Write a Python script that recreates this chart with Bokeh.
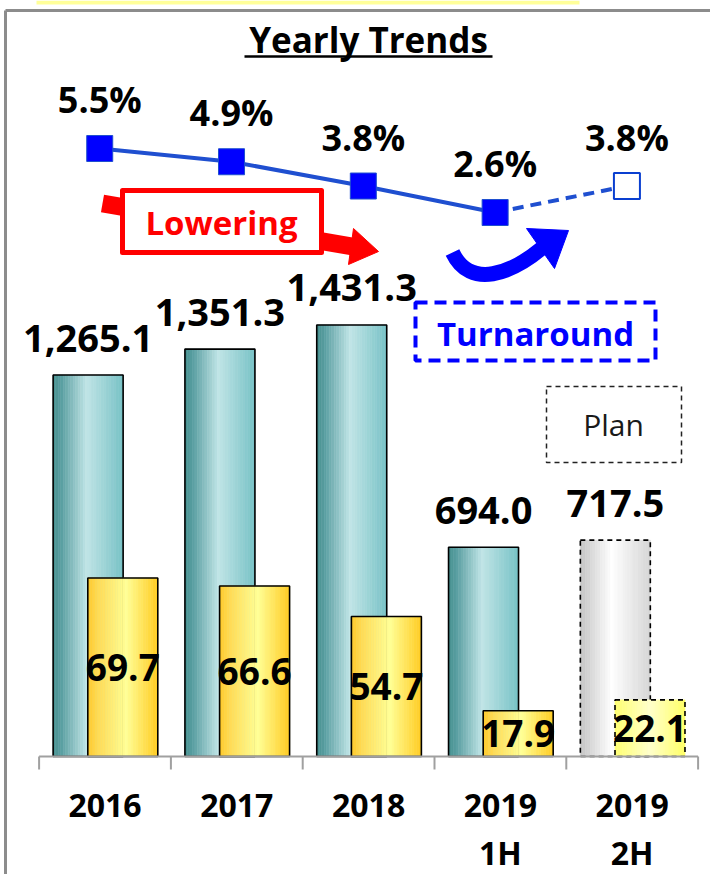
import numpy as np
from bokeh.plotting import figure
from bokeh.models import Range1d
from bokeh.core.properties import value
from bokeh.embed import file_html
from bokeh.resources import INLINE

# ---------------- data ----------------
title_text = "Yearly Trends"
cat_line1 = ["2016", "2017", "2018", "2019", "2019"]
cat_line2 = ["", "", "", "1H", "2H"]
sales = [1265.1, 1351.3, 1431.3, 694.0, 717.5]
sales_labels = ["1,265.1", "1,351.3", "1,431.3", "694.0", "717.5"]
profit = [69.7, 66.6, 54.7, 17.9, 22.1]
margin = [5.5, 4.9, 3.8, 2.6, 3.8]
is_plan = [False, False, False, False, True]
note_lowering = "Lowering"
note_turnaround = "Turnaround"
note_plan = "Plan"

# ---------------- layout ----------------
W, H = 710, 874
CX0, DX = 104.5, 131.8      # pixel centre of first category, spacing
BASE = 756                  # baseline pixel (from top)
K_SALES, K_PROFIT = 0.3015, 2.56
PCT_TOP_PX, PCT_TOP_V, K_PCT = 148, 5.5, 22.07
FONT = value("Open Sans")

n = len(cat_line1)
idx = np.arange(n, dtype=float)
OFF_T, OFF_Y, BW = -0.128, 0.135, 0.531

p = figure(width=W, height=H, output_backend="svg", toolbar_location=None,
           x_range=Range1d((0 - CX0) / DX, (W - CX0) / DX),
           y_range=Range1d(-(H - BASE) / K_SALES, BASE / K_SALES),
           x_axis_location=None, y_axis_location=None, min_border=0)
p.outline_line_color = None
p.grid.visible = False
p.background_fill_color = "white"
p.border_fill_color = "white"
p.extra_y_ranges = {
    "yel": Range1d(-(H - BASE) / K_PROFIT, BASE / K_PROFIT),
    "pct": Range1d(PCT_TOP_V - (H - PCT_TOP_PX) / K_PCT, PCT_TOP_V + PCT_TOP_PX / K_PCT),
    "px": Range1d(H, 0),
}
p.extra_x_ranges = {"px": Range1d(0, W)}


def hex2rgb(h):
    h = h.lstrip("#")
    return np.array([int(h[i:i + 2], 16) for i in (0, 2, 4)], dtype=float)


def grad(stops, t):
    for (t0, c0), (t1, c1) in zip(stops[:-1], stops[1:]):
        if t0 <= t <= t1:
            f = (t - t0) / (t1 - t0)
            c = hex2rgb(c0) * (1 - f) + hex2rgb(c1) * f
            return "#%02x%02x%02x" % tuple(int(round(v)) for v in c)
    return stops[-1][1]


TEAL = [(0, "#46908f"), (0.12, "#5a9fa2"), (0.48, "#c0e4e6"), (1.0, "#78c2c6")]
GOLD = [(0, "#ffc928"), (0.15, "#ffdb55"), (0.55, "#ffff96"), (1.0, "#ffcc22")]
GRAY = [(0, "#c4c4c4"), (0.45, "#ffffff"), (1.0, "#d6d6d6")]
PALE = [(0, "#ffff70"), (0.5, "#ffffcc"), (1.0, "#ffff66")]
NS = 28


def gradient_bars(vals, offset, stops_list, y_range_name="default"):
    L, R, T, C = [], [], [], []
    for i, v in enumerate(vals):
        x0 = idx[i] + offset - BW / 2
        for k in range(NS):
            L.append(x0 + BW * k / NS)
            R.append(x0 + BW * (k + 1) / NS)
            T.append(v)
            C.append(grad(stops_list[i], (k + 0.5) / NS))
    p.quad(left=L, right=R, bottom=0, top=T, fill_color=C, line_color=C,
           line_width=0.6, y_range_name=y_range_name)
    act = [i for i in range(n) if not is_plan[i]]
    pln = [i for i in range(n) if is_plan[i]]
    for sel, dash in ((act, "solid"), (pln, "5 4")):
        if sel:
            p.quad(left=[idx[i] + offset - BW / 2 for i in sel],
                   right=[idx[i] + offset + BW / 2 for i in sel],
                   bottom=0, top=[vals[i] for i in sel], fill_color=None,
                   line_color="black", line_width=1.6, line_dash=dash,
                   y_range_name=y_range_name)


gradient_bars(sales, OFF_T, [GRAY if pl else TEAL for pl in is_plan])
gradient_bars(profit, OFF_Y, [PALE if pl else GOLD for pl in is_plan], "yel")

# axis baseline + ticks
p.segment(x0=[-0.5], y0=[0], x1=[n - 0.5], y1=[0], line_color="#a0a0a0", line_width=2)
tick_len = 13 / K_SALES
p.segment(x0=list(np.arange(n + 1) - 0.5), y0=0, x1=list(np.arange(n + 1) - 0.5),
          y1=-tick_len, line_color="#a0a0a0", line_width=2)

# category labels
p.text(x=list(idx), y=[805] * n, text=cat_line1, y_range_name="px", text_font=FONT,
       text_font_style="bold", text_font_size="32px", text_align="center",
       text_baseline="middle", text_color="black")
p.text(x=list(idx), y=[852] * n, text=cat_line2, y_range_name="px", text_font=FONT,
       text_font_style="bold", text_font_size="32px", text_align="center",
       text_baseline="middle", text_color="black")

# bar value labels
p.text(x=list(idx + OFF_T), y=sales, text=sales_labels, text_font=FONT,
       text_font_style="bold", text_font_size="38px", text_align="center",
       text_baseline="middle", y_offset=-37, text_color="black")
p.text(x=list(idx + OFF_Y), y=[v / 2 for v in profit], text=[f"{v:.1f}" for v in profit],
       y_range_name="yel", text_font=FONT, text_font_style="bold", text_font_size="37px",
       text_align="center", text_baseline="middle", text_color="black")

# margin line
MX = list(idx - 0.04)
act = [i for i in range(n) if not is_plan[i]]
pln = [i for i in range(n) if is_plan[i]]
LINE_C = "#1f4fd0"
p.line(x=[MX[i] for i in act], y=[margin[i] for i in act], y_range_name="pct",
       line_color=LINE_C, line_width=4)
p.line(x=[MX[act[-1]]] + [MX[i] for i in pln], y=[margin[act[-1]]] + [margin[i] for i in pln],
       y_range_name="pct", line_color=LINE_C, line_width=4, line_dash="11 7")
p.scatter(x=[MX[i] for i in act], y=[margin[i] for i in act], y_range_name="pct",
          marker="square", size=26, fill_color="#0000ff", line_color=LINE_C, line_width=1)
p.scatter(x=[MX[i] for i in pln], y=[margin[i] for i in pln], y_range_name="pct",
          marker="square", size=26, fill_color="white", line_color="#0a3fd0", line_width=2)
p.text(x=MX, y=margin, text=[f"{v:.1f}%" for v in margin], y_range_name="pct",
       text_font=FONT, text_font_style="bold", text_font_size="36px", text_align="center",
       text_baseline="middle", y_offset=-49, text_color="black")

# ---------------- decorations (pixel space) ----------------
kw = dict(x_range_name="px", y_range_name="px")
p.quad(left=[36], right=[579], top=[0], bottom=[4], fill_color="#ffff99",
       line_color=None, **kw)
p.segment(x0=[5, 5], y0=[10, 10], x1=[5, W], y1=[H, 10], line_color="#8c8c8c",
          line_width=3, **kw)
p.text(x=[368], y=[39], text=[title_text], text_font=FONT, text_font_style="bold",
       text_font_size="35px", text_align="center", text_baseline="middle",
       text_color="black", **kw)
p.segment(x0=[244], y0=[56], x1=[492], y1=[56], line_color="black", line_width=2.5, **kw)

# Lowering arrow
p.line(x=[102, 352], y=[203, 246], line_color="#ff0000", line_width=18, **kw)
p.patch(x=[378, 353, 348], y=[251, 228, 264], fill_color="#ff0000", line_color="#ff0000", **kw)
p.quad(left=[122], right=[321], top=[190], bottom=[252], fill_color="white",
       line_color="#ff0000", line_width=5, line_join="round", **kw)
p.text(x=[221], y=[222], text=[note_lowering], text_font=FONT, text_font_style="bold",
       text_font_size="33px", text_align="center", text_baseline="middle",
       text_color="#ff0000", **kw)

# Turnaround arrow
p.bezier(x0=[452], y0=[252], x1=[541], y1=[248], cx0=[470], cy0=[290], cx1=[512], cy1=[272],
         line_color="#0000ff", line_width=15, **kw)
p.patch(x=[568, 526, 554], y=[230, 228, 268], fill_color="#0000ff", line_color="#0000ff", **kw)
p.quad(left=[415], right=[655], top=[302], bottom=[360], fill_color=None,
       line_color="#0000ff", line_width=4, line_dash="12 7", **kw)
p.text(x=[535], y=[333], text=[note_turnaround], text_font=FONT, text_font_style="bold",
       text_font_size="33px", text_align="center", text_baseline="middle",
       text_color="#0000ff", **kw)

# Plan box
p.quad(left=[546], right=[681], top=[386], bottom=[462], fill_color=None,
       line_color="#222222", line_width=1.5, line_dash="5 4", **kw)
p.text(x=[613], y=[424], text=[note_plan], text_font=FONT, text_font_size="30px",
       text_align="center", text_baseline="middle", text_color="#1a1a1a", **kw)

open("out.html", "w").write(file_html(p, INLINE))
